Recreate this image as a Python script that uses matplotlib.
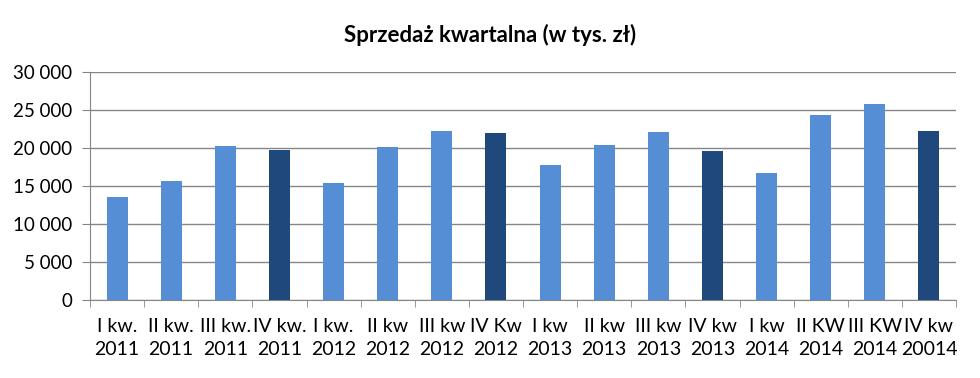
import matplotlib
matplotlib.use("Agg")
import matplotlib.pyplot as plt
from matplotlib.ticker import FuncFormatter, FixedLocator, NullFormatter

categories = ["I kw.\n2011", "II kw.\n2011", "III kw.\n2011", "IV kw.\n2011",
              "I kw.\n2012", "II kw\n2012", "III kw\n2012", "IV Kw\n2012",
              "I kw\n2013", "II kw\n2013", "III kw\n2013", "IV kw\n2013",
              "I kw\n2014", "II KW\n2014", "III KW\n2014", "IV kw\n20014"]
values = [13600, 15700, 20300, 19800, 15400, 20150, 22250, 22000,
          17800, 20400, 22100, 19650, 16700, 24350, 25800, 22250]
title = "Sprzedaż kwartalna (w tys. zł)"

light = "#558ED5"
dark = "#1F497D"
colors = [dark if c.startswith("IV") else light for c in categories]

plt.rcParams['font.family'] = ['Lato', 'DejaVu Sans']

fig = plt.figure(figsize=(9.8, 3.78), dpi=100)
ax = fig.add_axes([90/980, 1-300/378, (956-90)/980, (300-72)/378])

x = list(range(len(categories)))
ax.bar(x, values, width=0.39, color=colors, zorder=3)
ax.set_xlim(-0.5, len(categories)-0.5)
ax.set_ylim(0, 30000)
ax.set_yticks(range(0, 30001, 5000))
ax.yaxis.set_major_formatter(FuncFormatter(lambda v, p: f"{int(v):,}".replace(",", " ")))
ax.grid(axis='y', color='#868686', linewidth=1, zorder=0)

ax.set_xticks(x)
ax.set_xticklabels(categories, fontsize=14, linespacing=1.4)
ax.tick_params(axis='x', length=0, pad=13)
ax.xaxis.set_minor_locator(FixedLocator([i - 0.5 for i in range(len(categories)+1)]))
ax.xaxis.set_minor_formatter(NullFormatter())
ax.tick_params(axis='x', which='minor', length=5, color='#868686', direction='out')
ax.tick_params(axis='y', length=6, color='#868686', labelsize=13.5, pad=7)

for s in ['top', 'right']:
    ax.spines[s].set_visible(False)
for s in ['left', 'bottom']:
    ax.spines[s].set_color('#868686')

fig.text(0.5, 1-35/378, title, ha='center', va='center', fontsize=16, fontweight='bold')

fig.savefig("out.png", dpi=100)
